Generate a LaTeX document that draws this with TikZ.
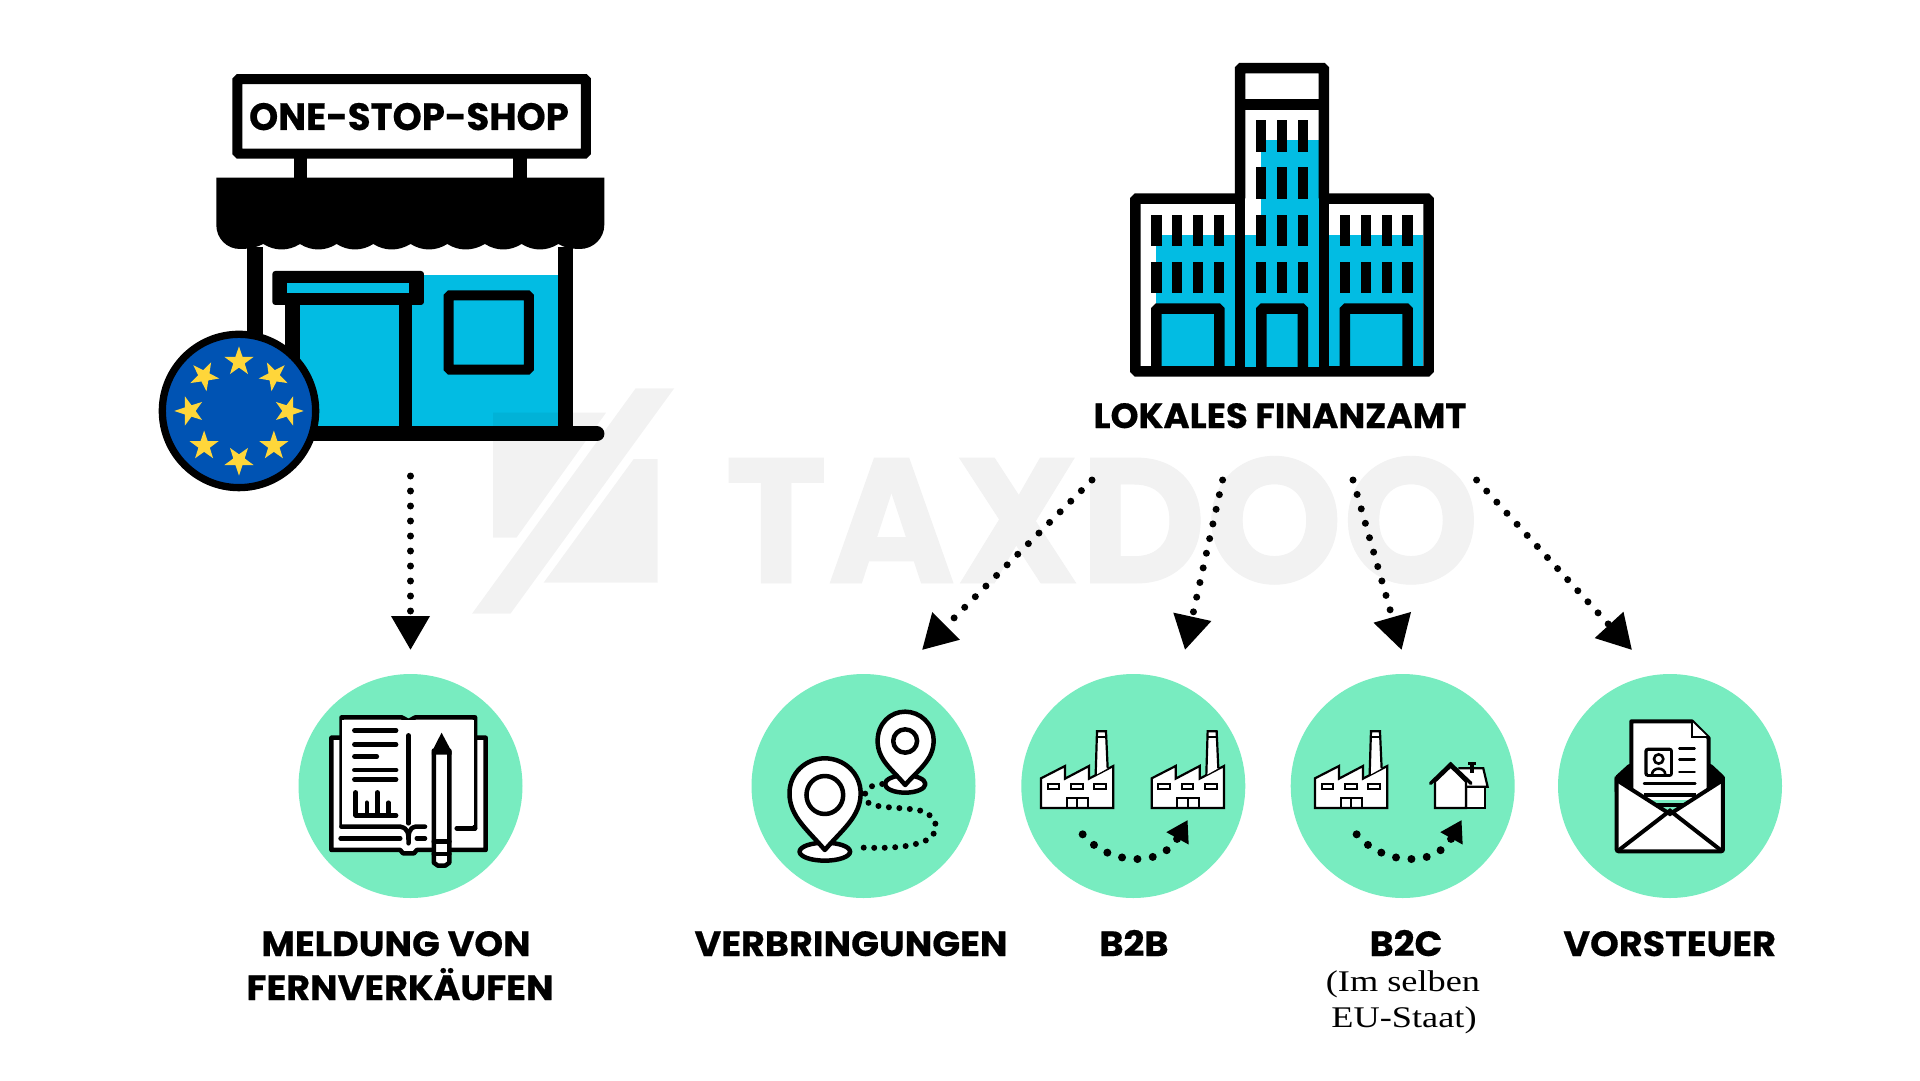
\documentclass[tikz,border=0pt]{standalone}
\usepackage{fontspec}
\usepackage{graphicx}
\usetikzlibrary{arrows.meta}
\newfontfamily\spartanfont[BoldFeatures={FakeBold=.5,FakeStretch=1.045}]{Poppins}
\newfontfamily\signfont[BoldFeatures={FakeBold=.5}]{Poppins}
\newfontfamily\bodyfont[FakeStretch=1.21]{Liberation Serif}
\definecolor{shopcyan}{HTML}{02BCE3}
\definecolor{discmint}{HTML}{78ECC0}
\definecolor{euroblue}{HTML}{0053B3}
\definecolor{eurostar}{HTML}{FFD63A}
\definecolor{wmgray}{HTML}{F2F2F2}
\tikzset{
  zoomed/.style={x=.3333pt,y=-.3333pt},
  bookzoom/.style={x=.459pt,y=-.3333pt},
  headlabel/.style={font=\spartanfont\bfseries\fontsize{35}{40}\selectfont,inner sep=0pt,anchor=base},
  sublabel/.style={font=\bodyfont\fontsize{30}{36}\selectfont,inner sep=0pt,anchor=base},
  mintdisc/.style={circle,fill=discmint,minimum size=224pt,inner sep=0pt},
  dotline/.style={line width=7pt,dash pattern=on 0pt off 15pt,line cap=round,-{Triangle[length=34pt,width=37pt]}},
  iconline/.style={line width=4.5pt,line cap=round,line join=round},
  windowbar/.style={fill=black},
  factorypic/.pic={
    \draw[fill=white,line width=2.2pt,line join=miter] (93,444) -- (93,355) -- (165,318) -- (165,356) -- (237,318) -- (237,356) -- (310,318) -- (310,444) -- cycle;
    \draw[fill=white,line width=2.2pt] (257,345) -- (261,214) -- (288,214) -- (293,325);
    \draw[line width=1.8pt] (260,230) -- (289,230);
    \foreach \x in {113,183,253} \draw[line width=1.8pt] (\x,372) rectangle (\x+35,388);
    \draw[line width=2.2pt] (170,444) -- (170,414) -- (235,414) -- (235,444) (202,414) -- (202,444);
  }
}
\begin{document}
\begin{tikzpicture}[x=1pt,y=-1pt,line cap=butt,line join=miter]
\useasboundingbox (0,0) rectangle (1920,1080);
\fill[white] (0,0) rectangle (1920,1080);
\node[font=\signfont\fontsize{178}{180}\selectfont\bfseries,text=wmgray,inner sep=0pt,anchor=base] (wordmark) at (1102,583) {\scalebox{.976}[1]{TAXDOO}};

% shop
\begin{scope}[shift={(140,50)},zoomed]
\fill[shopcyan] (816,675) rectangle (1254,1135);
\fill[shopcyan] (480,765) rectangle (776,1135);
\fill (322,590) rectangle (368,900);
\fill (1254,590) rectangle (1300,1135);
\fill (434,765) rectangle (480,1135);
\fill (776,765) rectangle (816,1135);
\draw[line width=15pt,line cap=round] (500,1152) -- (1371,1152);
\fill[rounded corners=3pt] (397,663) rectangle (852,765);
\fill[shopcyan] (442,700) rectangle (806,728);
\draw[line width=10pt,rounded corners=1.5pt] (926,736) rectangle (1167,959);
\fill (461,320) rectangle (501,390);
\fill (1120,320) rectangle (1160,390);
\draw[fill=white,line width=10pt,rounded corners=1.5pt] (292,87) rectangle (1338,311);
\node[font=\signfont\bfseries\fontsize{38}{40}\selectfont,inner sep=0pt,anchor=base] (signtext) at (807,240) {\scalebox{.9775}[1]{ONE-STOP-SHOP}};
\fill (229,383) -- (1393,383) -- (1393,525) .. controls (1393,565) and (1360,597) .. (1320,597) .. controls (1295,597) and (1270,592) .. (1255,582)
  \foreach \x in {1145,1035,922,812,700,590,480,370} { .. controls (\x+75,604) and (\x+35,604) .. (\x,582) }
  .. controls (350,592) and (330,597) .. (300,597) .. controls (260,597) and (229,565) .. (229,525) -- cycle;
\draw[fill=euroblue,line width=7.3pt] (297,1083) circle (230);
\begin{scope}[shift={(297,1083)}]
\foreach \a/\r in {0/0,45/45,90/90,135/135,180/180,225/90,270/270,315/90}
  \fill[eurostar,shift={(-\a:148)},rotate=\r] (0:46) -- (36:18) -- (72:46) -- (108:18) -- (144:46) -- (180:18) -- (216:46) -- (252:18) -- (288:46) -- (324:18) -- cycle;
\end{scope}
\end{scope}

% watermark logo
\fill[black,opacity=.05] (493,412.7) -- (606,412.7) -- (516.4,537.7) -- (493,537.7) -- cycle;
\fill[black,opacity=.05] (635.7,388.3) -- (674.2,388.3) -- (510.4,613.7) -- (472,613.7) -- cycle;
\fill[black,opacity=.05] (633.7,459) -- (657.6,459) -- (657.6,582.7) -- (543.6,582.7) -- cycle;

% office building
\begin{scope}[shift={(1110,50)},zoomed]
\fill[shopcyan] (138,555) rectangle (375,950);
\fill[shopcyan] (658,555) rectangle (940,950);
\draw[line width=10.5pt,rounded corners=1.5pt] (76,446) rectangle (956,964);
\fill[white] (406,170) rectangle (627,560);
\fill[shopcyan] (454,270) rectangle (627,560);
\fill[shopcyan] (406,555) rectangle (627,950);
\draw[line width=10.5pt,rounded corners=1.5pt] (390,445) -- (390,54) -- (642,54) -- (642,445);
\fill (375,54) rectangle (406,964);
\fill (627,54) rectangle (658,964);
\fill (390,148) rectangle (642,180);
\foreach \x in {438,501,563}
  \foreach \y in {211,352,494,635}
    \fill[windowbar] (\x,\y) rectangle (\x+31,\y+94);
\foreach \x in {124,186,249,312,690,752,815,877}
  \foreach \y in {494,635}
    \fill[windowbar] (\x,\y) rectangle (\x+31,\y+94);
\draw[line width=10.5pt,rounded corners=1.5pt] (139,960) -- (139,776) -- (328,776) -- (328,960);
\draw[line width=10.5pt,rounded corners=1.5pt] (454,960) -- (454,776) -- (579,776) -- (579,960);
\draw[line width=10.5pt,rounded corners=1.5pt] (705,960) -- (705,776) -- (893,776) -- (893,960);
\end{scope}
\node[headlabel] (officelabel) at (1280,428) {\scalebox{.974}[1]{LOKALES FINANZAMT}};

% discs
\node[mintdisc] (meldungdisc) at (410.5,786) {};
\node[mintdisc] (verbringdisc) at (863.5,786) {};
\node[mintdisc] (btobdisc) at (1133.3,786) {};
\node[mintdisc] (btocdisc) at (1402.7,786) {};
\node[mintdisc] (vorsteuerdisc) at (1670,786) {};

% book
\begin{scope}[shift={(280,660)},bookzoom]
\draw[iconline,fill=white] (130,233) -- (112,233) -- (112,570) -- (262,570) -- (268,580) -- (292,580) -- (298,570) -- (448,570) -- (448,233) -- (428,233);
\draw[iconline,fill=white] (134,500) -- (134,172) -- (265,172) -- (280,183) -- (295,172) -- (425,172) -- (425,505);
\fill[white] (136,180) rectangle (423,495);
\draw[iconline] (385,505) -- (425,505);
\draw[iconline] (134,500) -- (262,500) .. controls (280,505) and (280,520) .. (280,550) (316,500) -- (295,500) .. controls (280,505) and (280,520) .. (280,550);
\draw[iconline] (132,535) -- (262,535) (298,535) -- (316,535);
\draw[iconline] (280,226) -- (280,490);
\foreach \y in {211,254,330,358} \draw[iconline] (162,\y) -- (253,\y);
\draw[iconline] (162,290) -- (211,290);
\draw[iconline] (165,397) -- (165,466) -- (253,466);
\draw[iconline] (189,428) -- (189,466) (212,397) -- (212,466) (236,428) -- (236,466);
\draw[iconline,fill=white] (335,272) -- (369,272) -- (369,608) -- (360,617) -- (344,617) -- (335,608) -- cycle;
\fill (352,218) -- (374,275) -- (374,284) -- (331,284) -- (331,275) -- cycle;
\draw[iconline] (335,545) -- (369,545) (335,582) -- (369,582);
\end{scope}

% location pins
\begin{scope}[shift={(280,660)},bookzoom]
\draw[iconline,fill=white] (1362,372) ellipse (44 and 26);
\draw[iconline,fill=white] (1362,375) .. controls (1335,330) and (1302,300) .. (1302,243) .. controls (1302,190) and (1330,155) .. (1362,155) .. controls (1394,155) and (1424,190) .. (1424,243) .. controls (1424,300) and (1390,330) .. (1362,375) -- cycle;
\draw[iconline] (1362,243) ellipse (26 and 35);
\draw[iconline,fill=white] (1187,575) ellipse (55 and 27);
\draw[iconline,fill=white] (1187,570) .. controls (1150,510) and (1110,470) .. (1110,400) .. controls (1110,340) and (1145,295) .. (1187,295) .. controls (1229,295) and (1265,340) .. (1265,400) .. controls (1265,470) and (1224,510) .. (1187,570) -- cycle;
\draw[iconline] (1187,405) ellipse (40 and 57);
\draw[line width=6pt,dash pattern=on 0pt off 10.5pt,line cap=round] (1312,372) .. controls (1280,375) and (1270,395) .. (1276,420) .. controls (1285,445) and (1340,440) .. (1390,450) .. controls (1440,465) and (1445,535) .. (1385,552) .. controls (1350,565) and (1300,565) .. (1255,562);
\end{scope}

% factories and house
\begin{scope}[shift={(1010,660)},zoomed]
\pic at (0,0) {factorypic};
\pic at (332,0) {factorypic};
\pic at (822,0) {factorypic};
\coordinate (btobfrom) at (218,523);
\coordinate (btobto) at (533,480);
\coordinate (btocfrom) at (1040,523);
\coordinate (btocto) at (1355,480);
\draw[line width=8pt,dash pattern=on 0pt off 15.5pt,line cap=round,-{Triangle[length=21pt,width=24pt]}] (btobfrom) .. controls (290,610) and (450,630) .. (btobto);
\draw[line width=8pt,dash pattern=on 0pt off 15.5pt,line cap=round,-{Triangle[length=21pt,width=24pt]}] (btocfrom) .. controls (1112,610) and (1272,630) .. (btocto);
\draw[fill=white,line width=2.2pt] (1275,444) rectangle (1425,370);
\draw[fill=white,line width=2.2pt] (1345,325) -- (1420,325) -- (1433,380) -- (1368,380) -- (1368,444);
\fill (1375,306) rectangle (1397,314);
\fill (1380,314) rectangle (1392,340);
\draw[fill=white,line width=2.2pt] (1275,444) -- (1275,365) -- (1322,320) -- (1368,365) -- (1368,444) -- cycle;
\draw[line width=3.4pt,line cap=round] (1262,370) -- (1322,312) -- (1383,370);
\end{scope}

% envelope
\begin{scope}[shift={(1500,660)},zoomed]
\fill[rounded corners=2pt] (344,350) -- (388,310) -- (632,310) -- (675,350) -- (675,400) -- (344,400) -- cycle;
\draw[fill=white,line width=4pt,line join=round] (394,420) -- (394,184) -- (576,184) -- (626,234) -- (626,420);
\draw[line width=2pt,fill=white] (575,184) -- (575,232) -- (624,232);
\draw[line width=3.3pt,rounded corners=2pt] (438,268) rectangle (514,346);
\fill[white] (443,273) rectangle (509,341);
\draw[line width=2.6pt] (476,297) circle (14);
\draw[line width=2.6pt] (456,344) .. controls (456,320) and (496,320) .. (496,344);
\draw[line width=2.4pt,line cap=round] (538,265) -- (584,265) (538,298) -- (584,298) (538,336) -- (584,336) (432,371) -- (586,371);
\draw[line width=4pt] (432,405) -- (588,405);
\draw[line width=4pt] (462,435) -- (555,435);
\fill[white] (350,365) -- (510,465) -- (670,365) -- (670,575) -- (350,575) -- cycle;
\draw[line width=4pt,rounded corners=2pt] (350,350) -- (350,574) -- (669,574) -- (669,350);
\draw[line width=4pt] (350,360) -- (510,462) -- (669,360);
\draw[line width=4pt] (352,574) -- (510,452) -- (667,574);
\end{scope}

% connectors
\coordinate (shopfrom) at (410.5,476);
\coordinate (shopto) at (410.5,650);
\coordinate (officeone) at (1092,480);
\coordinate (officetwo) at (1222.6,480);
\coordinate (officethree) at (1353,480);
\coordinate (officefour) at (1476.6,480);
\coordinate (verbringto) at (922,650);
\coordinate (btobto2) at (1185,650);
\coordinate (btocto2) at (1401.6,650);
\coordinate (vorsteuerto) at (1632,650);
\draw[dotline] (shopfrom) -- (shopto);
\draw[dotline] (officeone) -- (verbringto);
\draw[dotline] (officetwo) -- (btobto2);
\draw[dotline] (officethree) -- (btocto2);
\draw[dotline] (officefour) -- (vorsteuerto);

% labels
\node[headlabel] (meldunglabel) at (396,956) {MELDUNG VON};
\node[headlabel] (fernlabel) at (400,1000) {FERNVERKÄUFEN};
\node[headlabel] (verbringlabel) at (851,956) {VERBRINGUNGEN};
\node[headlabel] (btoblabel) at (1134,956) {B2B};
\node[headlabel] (btoclabel) at (1406,956) {B2C};
\node[sublabel] (btocsubone) at (1403,991.7) {(Im selben};
\node[sublabel] (btocsubtwo) at (1404,1027) {EU-Staat)};
\node[headlabel] (vorsteuerlabel) at (1669.7,956) {VORSTEUER};
\end{tikzpicture}
\end{document}
